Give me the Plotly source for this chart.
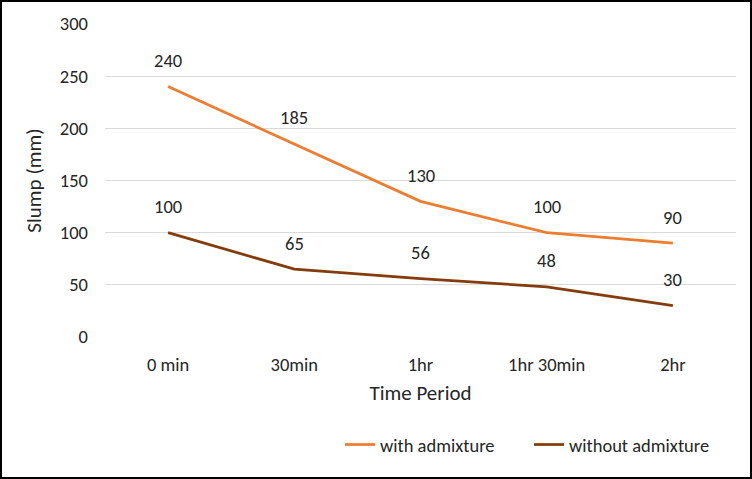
import plotly.graph_objects as go

categories = ["0 min", "30min", "1hr", "1hr 30min", "2hr"]
with_admixture = [240, 185, 130, 100, 90]
without_admixture = [100, 65, 56, 48, 30]
y_ticks = [0, 50, 100, 150, 200, 250, 300]

W, H = 752, 479
L, R, T, B = 105, 16, 24, 142
pw, ph = W - L - R, H - T - B

FAM = "Carlito, Calibri, Lato, sans-serif"
font = dict(family=FAM, size=18.5, color="#262626")
legend_font = dict(family=FAM, size=18.5, color="#262626")
title_font = dict(family=FAM, size=21, color="#262626")

fig = go.Figure()
fig.add_trace(go.Scatter(x=categories, y=with_admixture, mode="lines", name="with admixture",
                         line=dict(color="#ED7D31", width=2.75)))
fig.add_trace(go.Scatter(x=categories, y=without_admixture, mode="lines", name="without admixture",
                         line=dict(color="#843C0C", width=2.75)))

annotations = []
for series in (with_admixture, without_admixture):
    for c, v in zip(categories, series):
        annotations.append(dict(x=c, y=v, text=str(v), showarrow=False, yshift=26,
                                font=font, xref="x", yref="y"))

fig.update_layout(
    width=W, height=H,
    margin=dict(l=L, r=R, t=T, b=B, autoexpand=False),
    paper_bgcolor="white", plot_bgcolor="white",
    font=font,
    annotations=annotations,
    xaxis=dict(title=dict(text="Time Period", standoff=10, font=title_font), showgrid=False,
               range=[-0.5, 4.5], automargin=False,
               zeroline=False, showline=False, ticks="", tickfont=font, ticklabelstandoff=14),
    yaxis=dict(title=dict(text="Slump (mm)", standoff=12, font=title_font), range=[0, 300],
               tickvals=y_ticks, showgrid=True, gridcolor="#D9D9D9", gridwidth=1.3,
               automargin=False,
               zeroline=False, showline=False, ticks="", tickfont=font, ticklabelstandoff=16),
    legend=dict(orientation="h", x=(340 - L) / pw, xanchor="left", y=-0.345, yanchor="middle",
                font=legend_font, entrywidth=144, entrywidthmode="pixels",
                traceorder="normal"),
    showlegend=True,
    shapes=[dict(type="rect", xref="paper", yref="paper",
                 x0=(1 - L) / pw, x1=1 + (R - 1) / pw,
                 y0=-(B - 1) / ph, y1=1 + (T - 1) / ph,
                 line=dict(color="black", width=2), fillcolor="rgba(0,0,0,0)")],
)
fig.write_html("out.html", config={"displayModeBar": False},
               post_script="document.body.style.margin='0';")
